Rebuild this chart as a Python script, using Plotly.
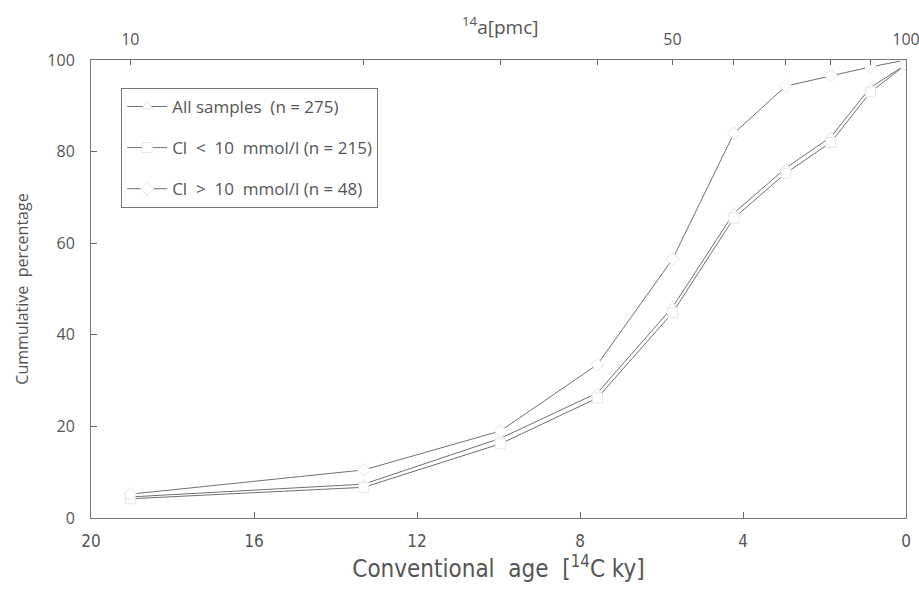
import numpy as np
import plotly.graph_objects as go

# 14C activity bins (pmc) and the matching conventional age (ky, mean life 8267 a)
pmc = np.array([10, 20, 30, 40, 50, 60, 70, 80, 90, 100])
age_ky = 8.267 * np.log(100.0 / pmc)

# cumulative percentages
all_samples = [4.6, 7.4, 17.4, 27.3, 46.0, 66.6, 76.4, 83.2, 94.0, 99.0]
cl_low = [4.2, 6.7, 16.2, 26.2, 44.8, 65.5, 75.3, 82.0, 93.0, 99.0]
cl_high = [5.2, 10.5, 19.0, 33.5, 56.5, 84.0, 94.3, 96.6, 98.5, 100.0]

top_major = [10, 50, 100]
top_minor = [20, 30, 40, 60, 70, 80, 90]

series = [
    ("All samples  (n = 275)", all_samples, "triangle-up"),
    ("Cl  <  10  mmol/l (n = 215)", cl_low, "square"),
    ("Cl  >  10  mmol/l (n = 48)", cl_high, "diamond"),
]


def to_age(vals):
    return list(8.267 * np.log(100.0 / np.array(vals, dtype=float)))


txt = "#555555"
narrow = "DejaVu Sans Condensed, Liberation Sans Narrow, Open Sans, sans-serif"
fig = go.Figure()
for i, (name, vals, sym) in enumerate(series):
    fig.add_trace(go.Scatter(
        x=age_ky, y=vals, name=name, mode="lines+markers",
        legendgroup=str(i),
        line=dict(color="#707070", width=1),
        marker=dict(symbol=sym, size=10, color="white",
                    line=dict(color="#e6e6e6", width=1)),
    ))

# invisible trace so the top (pmc) axis gets drawn
fig.add_trace(go.Scatter(x=[20, 0], y=[0, 0], xaxis="x2", mode="markers",
                         marker=dict(opacity=0), showlegend=False, hoverinfo="skip"))

fig.update_layout(
    width=919, height=592,
    margin=dict(l=91, r=13, t=60, b=74),
    paper_bgcolor="white", plot_bgcolor="white",
    font=dict(family="Open Sans, DejaVu Sans, sans-serif", color=txt),
    xaxis=dict(
        range=[20, 0], tickvals=[20, 16, 12, 8, 4, 0], automargin=False,
        ticks="inside", ticklen=6, tickcolor="#666", showgrid=False,
        zeroline=False, showline=True, linecolor="#777", linewidth=1,
        tickfont=dict(family=narrow, size=17, color=txt),
        ticklabelstandoff=8, ticklabeloverflow="allow",
        title=dict(text="Conventional  age  [<sup>14</sup>C ky]", standoff=4,
                   font=dict(family=narrow, size=24, color=txt)),
    ),
    xaxis2=dict(
        overlaying="x", side="top", anchor="y", range=[20, 0], automargin=False,
        tickvals=to_age(top_major), ticktext=[str(v) for v in top_major],
        ticks="inside", ticklen=5, tickcolor="#666", showgrid=False,
        minor=dict(tickvals=to_age(top_minor), ticks="inside", ticklen=5, tickcolor="#666"),
        zeroline=False, showline=True, linecolor="#777", linewidth=1,
        tickfont=dict(size=16, color=txt), ticklabelstandoff=8,
        ticklabeloverflow="allow",
    ),
    yaxis=dict(
        range=[0, 100], tickvals=[0, 20, 40, 60, 80, 100], automargin=False,
        ticks="inside", ticklen=6, tickcolor="#666", showgrid=False,
        zeroline=False, showline=True, mirror=True, linecolor="#777", linewidth=1,
        tickfont=dict(size=16, color=txt), ticklabelstandoff=12,
        title=dict(text="Cummulative  percentage", standoff=14, font=dict(size=16, color=txt)),
    ),
    legend=dict(
        x=0.037, y=0.939, xanchor="left", yanchor="top",
        bordercolor="#777", borderwidth=1, bgcolor="white",
        font=dict(size=17, color=txt), tracegroupgap=16,
        itemwidth=40,
    ),
    annotations=[dict(
        text="<sup>14</sup>a[pmc]", x=0.502, y=1.074, xref="paper", yref="paper",
        xanchor="center", yanchor="middle", showarrow=False,
        font=dict(size=19, color=txt),
    )],
)

# drop the browser's default page margin so the figure sits at the window origin
fig.write_html("out.html", config={"displayModeBar": False},
               post_script="document.body.style.margin='0';")
